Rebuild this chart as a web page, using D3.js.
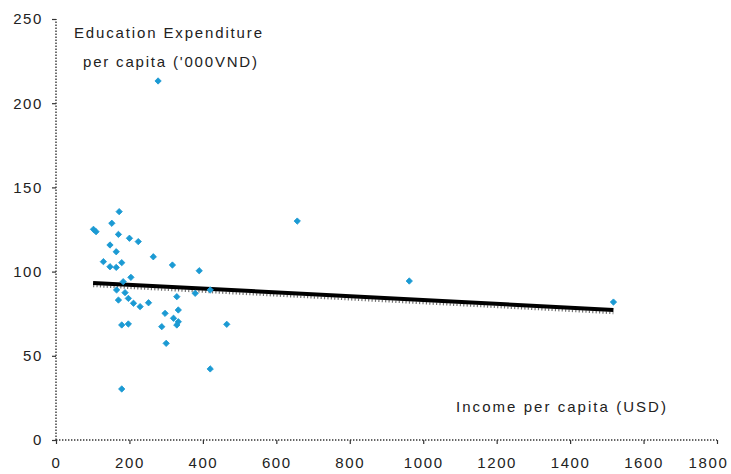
<!DOCTYPE html>
<html>
<head>
<meta charset="utf-8">
<script src="https://cdn.jsdelivr.net/npm/d3@7"></script>
<style>
  html, body { margin: 0; padding: 0; background: #fff; }
  svg { display: block; }
  text { font-family: "Liberation Sans", Arial, sans-serif; fill: #222; }
</style>
</head>
<body>
<svg id="chart" width="731" height="474"></svg>
<script>
// Income per capita (USD) by province
const incomeUSD = [172, 102, 109, 152, 170, 200, 224, 147, 164, 129, 147, 164, 179, 265, 317, 390,
                   204, 183, 165, 188, 170, 197, 211, 229, 252, 329, 379, 420, 297, 333, 320, 333,
                   288, 329, 179, 197, 465, 300, 420, 179, 278, 657, 962, 1518];
// Education expenditure per capita ('000 VND)
const eduExp = [135.6, 125.1, 123.7, 128.7, 122.1, 119.8, 117.8, 115.8, 111.8, 105.9, 102.9, 102.5, 105.3, 108.8, 103.9, 100.5,
                96.6, 94.0, 89.1, 87.5, 83.1, 84.1, 81.2, 79.2, 81.5, 85.1, 87.1, 89.1, 75.2, 77.2, 72.3, 70.2,
                67.3, 68.3, 68.3, 68.9, 68.7, 57.4, 42.2, 30.3, 213.2, 130.0, 94.4, 81.9];
// Linear trend endpoints
const trendX = [101, 1518];
const trendY = [93.3, 77.2];

const xTicks = [0, 200, 400, 600, 800, 1000, 1200, 1400, 1600, 1800];
const yTicks = [0, 50, 100, 150, 200, 250];

const svg = d3.select("#chart");
const x = d3.scaleLinear().domain([0, 1800]).range([56, 717]);
const y = d3.scaleLinear().domain([0, 250]).range([440, 19]);

// Axes: dotted lines with short outside ticks
const axisColor = "#333";
const xAxis = svg.append("g").attr("transform", `translate(0,${y(0)})`)
  .call(d3.axisBottom(x).tickValues(xTicks).tickSize(4).tickPadding(10).tickFormat(d3.format("d")));
const yAxis = svg.append("g").attr("transform", `translate(${x(0)},0)`)
  .call(d3.axisLeft(y).tickValues(yTicks).tickSize(4).tickPadding(9).tickFormat(d3.format("d")));

[xAxis, yAxis].forEach(g => {
  g.select(".domain").attr("stroke", axisColor).attr("stroke-width", 1.4)
    .attr("stroke-dasharray", "1.4,1.6");
  g.selectAll(".tick line").attr("stroke", axisColor).attr("stroke-width", 1.2);
  g.selectAll(".tick text")
    .style("font-family", "Liberation Sans, Arial, sans-serif")
    .style("font-size", "15px")
    .style("letter-spacing", "1.6px")
    .attr("fill", "#222");
});
yAxis.select(".domain").attr("d", `M0,${y(0)}V${y(250)}`);
xAxis.select(".domain").attr("d", `M0,0H${x(1800) - x(0)}`).attr("transform", `translate(${x(0)},0)`);
xAxis.selectAll(".tick text").attr("dy", "0.95em");
// keep the last label inside the frame
xAxis.selectAll(".tick text").filter(d => d === 1800).attr("x", -9);

// Trend line (thick, with a ragged dotted edge beneath)
const line = d3.line().x((d, i) => x(trendX[i])).y(d => y(d));
svg.append("path").datum(trendY).attr("d", line)
  .attr("fill", "none").attr("stroke", "#000").attr("stroke-width", 4);
svg.append("path").datum(trendY).attr("d", line)
  .attr("transform", "translate(0,3)")
  .attr("fill", "none").attr("stroke", "#000").attr("stroke-width", 2.5)
  .attr("stroke-dasharray", "1.2,2.2").attr("opacity", 0.55);

// Province points: small rotated squares
const sym = d3.symbol().type(d3.symbolSquare).size(20);
svg.append("g").selectAll("path").data(incomeUSD).join("path")
  .attr("d", sym)
  .attr("transform", (d, i) => `translate(${x(d)},${y(eduExp[i])}) rotate(45)`)
  .attr("fill", "#1b9ad3")
  .attr("stroke", "#1b9ad3").attr("stroke-width", 0.8);

// Axis titles
const titleStyle = s => s.style("font-size", "15px").attr("text-anchor", "middle");
svg.append("text").attr("x", 168).attr("y", 38).text("Education Expenditure")
  .call(titleStyle).attr("textLength", 188).attr("lengthAdjust", "spacing");
svg.append("text").attr("x", 170).attr("y", 67).text("per capita ('000VND)")
  .call(titleStyle).attr("textLength", 174).attr("lengthAdjust", "spacing");
svg.append("text").attr("x", 561).attr("y", 412).text("Income per capita  (USD)")
  .call(titleStyle).attr("textLength", 210).attr("lengthAdjust", "spacing");
</script>
</body>
</html>
